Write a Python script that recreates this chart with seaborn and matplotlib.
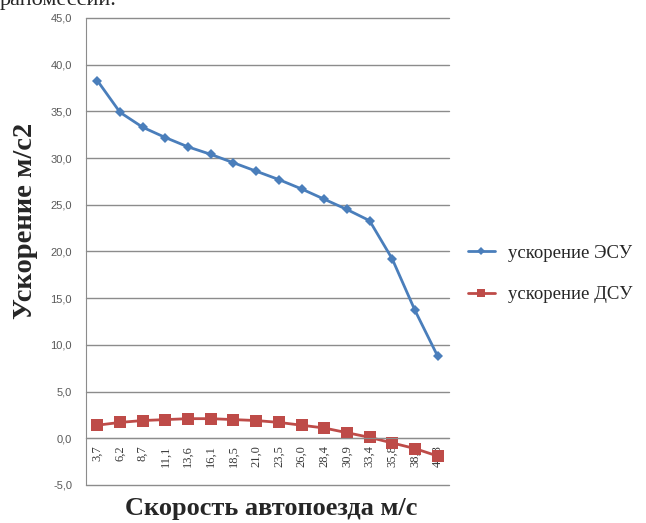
import matplotlib
matplotlib.use("Agg")
import matplotlib.pyplot as plt
import seaborn as sns
import pandas as pd
import numpy as np

# Speed of the road train, m/s (category labels)
speeds = ["3,7", "6,2", "8,7", "11,1", "13,6", "16,1", "18,5", "21,0",
          "23,5", "26,0", "28,4", "30,9", "33,4", "35,8", "38,3", "40,8"]
# Acceleration, m/s2
accel_esu = [38.3, 34.9, 33.3, 32.2, 31.2, 30.4, 29.5, 28.6,
             27.7, 26.7, 25.6, 24.5, 23.3, 19.2, 13.7, 8.8]
accel_dsu = [1.4, 1.7, 1.9, 2.0, 2.1, 2.1, 2.0, 1.9,
             1.7, 1.4, 1.1, 0.6, 0.1, -0.5, -1.1, -1.9]
series_names = ["ускорение ЭСУ", "ускорение ДСУ"]
y_ticks = [-5, 0, 5, 10, 15, 20, 25, 30, 35, 40, 45]

sns.set_style("white")
plt.rcParams["font.family"] = ["Liberation Serif", "DejaVu Serif"]

pos = np.arange(len(speeds))
df = pd.DataFrame({
    "pos": np.concatenate([pos, pos]),
    "value": accel_esu + accel_dsu,
    "series": [series_names[0]] * len(pos) + [series_names[1]] * len(pos),
})

fig = plt.figure(figsize=(6.46, 5.23), dpi=100)
ax = fig.add_axes([0.1331, 0.0727, 0.5619, 0.8929])

blue = "#4A7EBB"
red = "#BE4B48"
sns.lineplot(data=df, x="pos", y="value", hue="series", style="series",
             palette=[blue, red], markers=["D", "s"], dashes=False,
             markersize=6.5, linewidth=2, markeredgewidth=0, ax=ax,
             legend=False)
for ln, ms in zip(ax.lines[:2], [5.5, 8]):
    ln.set_markersize(ms)

# axis frame: bottom spine sits on the zero line
for side in ["top", "right"]:
    ax.spines[side].set_visible(False)
ax.spines["left"].set_color("#8c8c8c")
ax.spines["bottom"].set_color("#8c8c8c")
ax.spines["bottom"].set_position(("data", 0))

ax.set_xlim(-0.5, len(speeds) - 0.5)
ax.set_ylim(-5, 45)
ax.set_yticks(y_ticks)
ax.set_yticklabels([f"{v:.1f}".replace(".", ",") for v in y_ticks],
                   fontfamily="Liberation Sans", fontsize=8, color="#595959")
ax.yaxis.grid(True, color="#8c8c8c", linewidth=1)
for gl in ax.get_ygridlines():
    gl.set_clip_on(False)
ax.xaxis.grid(False)

ax.set_xticks(pos)
ax.set_xticklabels(speeds, rotation=90, fontsize=9, color="#3a3a3a")
ax.set_xticks(np.arange(-0.5, len(speeds), 1), minor=True)
ax.tick_params(axis="x", which="major", length=0, pad=5)
ax.tick_params(axis="x", which="minor", length=4, color="#8c8c8c", direction="out")
ax.tick_params(axis="y", length=4, color="#8c8c8c", direction="out", pad=6)

ax.set_xlabel("")
ax.set_ylabel("")
fig.text(0.42, 0.028, "Скорость автопоезда м/с", ha="center", va="center",
         fontsize=19, fontweight="bold")
fig.text(0.04, 0.577, "Ускорение м/с2", ha="center", va="center",
         rotation=90, fontsize=20.5, fontweight="bold")

handles = [
    plt.Line2D([], [], color=blue, lw=2, marker="D", markersize=4, markeredgewidth=0),
    plt.Line2D([], [], color=red, lw=2, marker="s", markersize=6, markeredgewidth=0),
]
ax.legend(handles, series_names, loc="center left", bbox_to_anchor=(1.052, 0.452),
          frameon=False, fontsize=13.5, labelspacing=1.3, handlelength=1.45,
          handletextpad=0.7, borderpad=0, borderaxespad=0)

fig.text(0.0, 1.0, "рапомессии.", ha="left", va="center", fontsize=16)

fig.savefig("out.png", dpi=100, facecolor="white")
